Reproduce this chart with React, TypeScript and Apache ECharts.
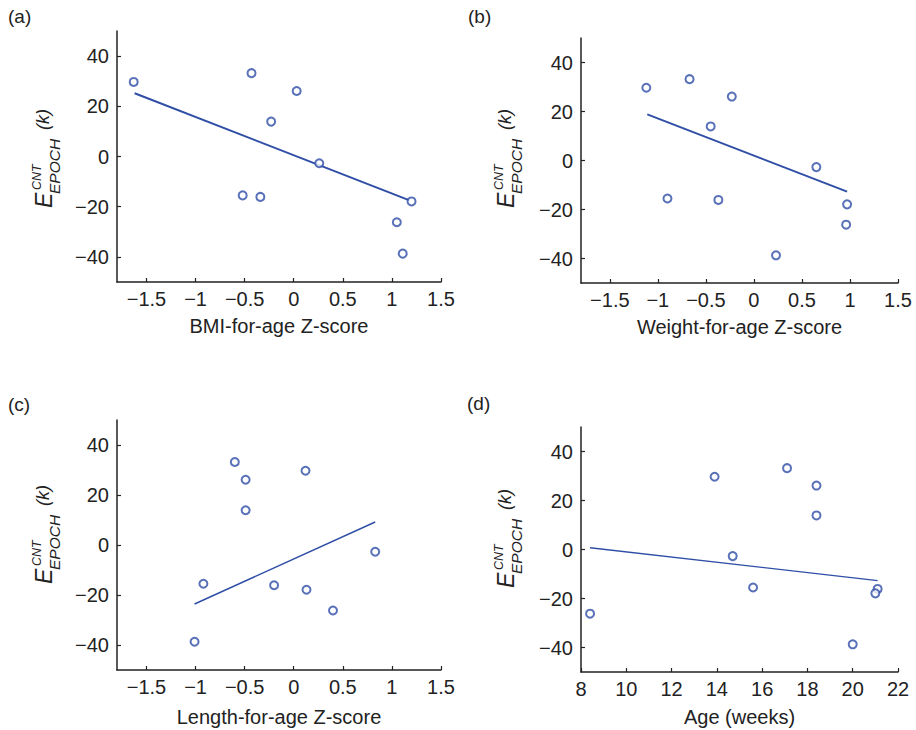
import React, { useEffect, useRef } from "react";
import * as echarts from "echarts";

// E_EPOCH^CNT (k) for each of the ten subjects
const subjectE = [29.7, 33.2, 26.1, 13.9, -2.7, -15.5, -16.1, -17.9, -26.2, -38.7];
// predictors per subject (same order)
const bmiZ = [-1.63, -0.43, 0.03, -0.23, 0.26, -0.52, -0.34, 1.2, 1.05, 1.11];
const weightZ = [-1.12, -0.67, -0.23, -0.45, 0.65, -0.9, -0.37, 0.97, 0.96, 0.23];
const lengthZ = [0.12, -0.6, -0.49, -0.49, 0.83, -0.92, -0.2, 0.13, 0.4, -1.01];
const ageWeeks = [13.9, 17.1, 18.4, 18.4, 14.7, 15.6, 21.1, 21.0, 8.4, 20.0];
// fitted regression line end points [x, y]
const bmiFit = [[-1.62, 25.2], [1.18, -17.5]];
const weightFit = [[-1.11, 18.8], [0.97, -12.7]];
const lengthFit = [[-1.01, -23.6], [0.83, 9.2]];
const ageFit = [[8.4, 0.7], [21.1, -12.7]];

const zTicks = [-1.5, -1, -0.5, 0, 0.5, 1, 1.5];
const yTicks = [-40, -20, 0, 20, 40];
const xNames = ["BMI-for-age Z-score", "Weight-for-age Z-score", "Length-for-age Z-score", "Age (weeks)"];
const panelLetters = ["(a)", "(b)", "(c)", "(d)"];

const BLUE = "#2f4ea6";
const INK = "#222222";
const FONT = "Liberation Sans, Arial, Helvetica, sans-serif";

const grids = [
  { left: 117, top: 31, width: 324, height: 251 },
  { left: 581, top: 38, width: 317, height: 245 },
  { left: 117, top: 420, width: 324, height: 250 },
  { left: 581, top: 427, width: 317, height: 245 },
];
const nameGaps = [34, 34, 37, 35];
const letterPos = [[8, 16], [468, 16], [8, 404], [467, 403]];
const yLabelPos = [[52, 208], [514, 208], [52, 584], [514, 588]];

const minusFmt = (v: number) => String(v).replace("-", "\u2212");

function yLabel(bx: number, by: number) {
  const t = (text: string, lx: number, ly: number, size: number) => ({
    type: "text",
    x: lx,
    y: ly,
    style: {
      text,
      font: `italic ${size}px ${FONT}`,
      fill: INK,
      align: "left",
      verticalAlign: "middle",
    },
  });
  return {
    type: "group",
    x: bx,
    y: by,
    rotation: Math.PI / 2,
    children: [
      t("E", 0, -8.5, 23),
      t("CNT", 18, -15.5, 12.5),
      t("EPOCH", 14, 2, 15.5),
      t("(k)", 78, -9, 18),
    ],
  };
}

export default function App() {
  const ref = useRef<HTMLDivElement>(null);
  useEffect(() => {
    document.body.style.margin = "0";
    const chart = echarts.init(ref.current!, null, { renderer: "svg" });
    const xs = [bmiZ, weightZ, lengthZ, ageWeeks];
    const fits = [bmiFit, weightFit, lengthFit, ageFit];
    const xAxis = grids.map((_, i) => {
      const isAge = i === 3;
      const base: any = {
        type: "value",
        gridIndex: i,
        min: isAge ? 8 : -1.8,
        max: isAge ? 22 : 1.5,
        name: xNames[i],
        nameLocation: "middle",
        nameGap: nameGaps[i],
        nameTextStyle: { fontFamily: FONT, fontSize: 20, color: INK },
        axisLine: { show: true, onZero: false, lineStyle: { color: INK, width: 1.5 } },
        axisTick: { show: true, inside: true, length: 4, lineStyle: { color: INK, width: 1.2 } },
        axisLabel: { fontFamily: FONT, fontSize: 20, color: INK, margin: 7, formatter: minusFmt },
        splitLine: { show: false },
      };
      if (isAge) {
        base.interval = 2;
      } else {
        base.axisLabel.customValues = zTicks;
        base.axisTick.customValues = zTicks;
      }
      return base;
    });
    const yAxis = grids.map((_, i) => ({
      type: "value",
      gridIndex: i,
      min: -50,
      max: 50,
      axisLine: { show: true, onZero: false, lineStyle: { color: INK, width: 1.5 } },
      axisTick: { show: true, inside: true, length: 4, lineStyle: { color: INK, width: 1.2 }, customValues: yTicks },
      axisLabel: { fontFamily: FONT, fontSize: 20, color: INK, margin: 8, formatter: minusFmt, customValues: yTicks },
      splitLine: { show: false },
    }));
    const series: any[] = [];
    xs.forEach((xv, i) => {
      series.push({
        type: "line",
        xAxisIndex: i,
        yAxisIndex: i,
        data: fits[i],
        symbol: "none",
        lineStyle: { color: BLUE, width: i < 2 ? 2 : 1.4 },
        z: 2,
      });
      series.push({
        type: "scatter",
        xAxisIndex: i,
        yAxisIndex: i,
        data: xv.map((x, k) => [x, subjectE[k]]),
        symbol: "emptyCircle",
        symbolSize: 8,
        itemStyle: { color: BLUE, borderColor: BLUE, borderWidth: 2.2 },
        z: 3,
      });
    });
    const graphic: any[] = [];
    panelLetters.forEach((l, i) => {
      graphic.push({
        type: "text",
        x: letterPos[i][0],
        y: letterPos[i][1],
        style: { text: l, font: `19px ${FONT}`, fill: INK, align: "left", verticalAlign: "middle" },
      });
      graphic.push(yLabel(yLabelPos[i][0], yLabelPos[i][1]));
    });
    chart.setOption({
      animation: false,
      backgroundColor: "#ffffff",
      grid: grids,
      xAxis,
      yAxis,
      series,
      graphic,
    });
    return () => chart.dispose();
  }, []);
  return <div ref={ref} style={{ width: 916, height: 730, overflow: "hidden" }} />;
}
